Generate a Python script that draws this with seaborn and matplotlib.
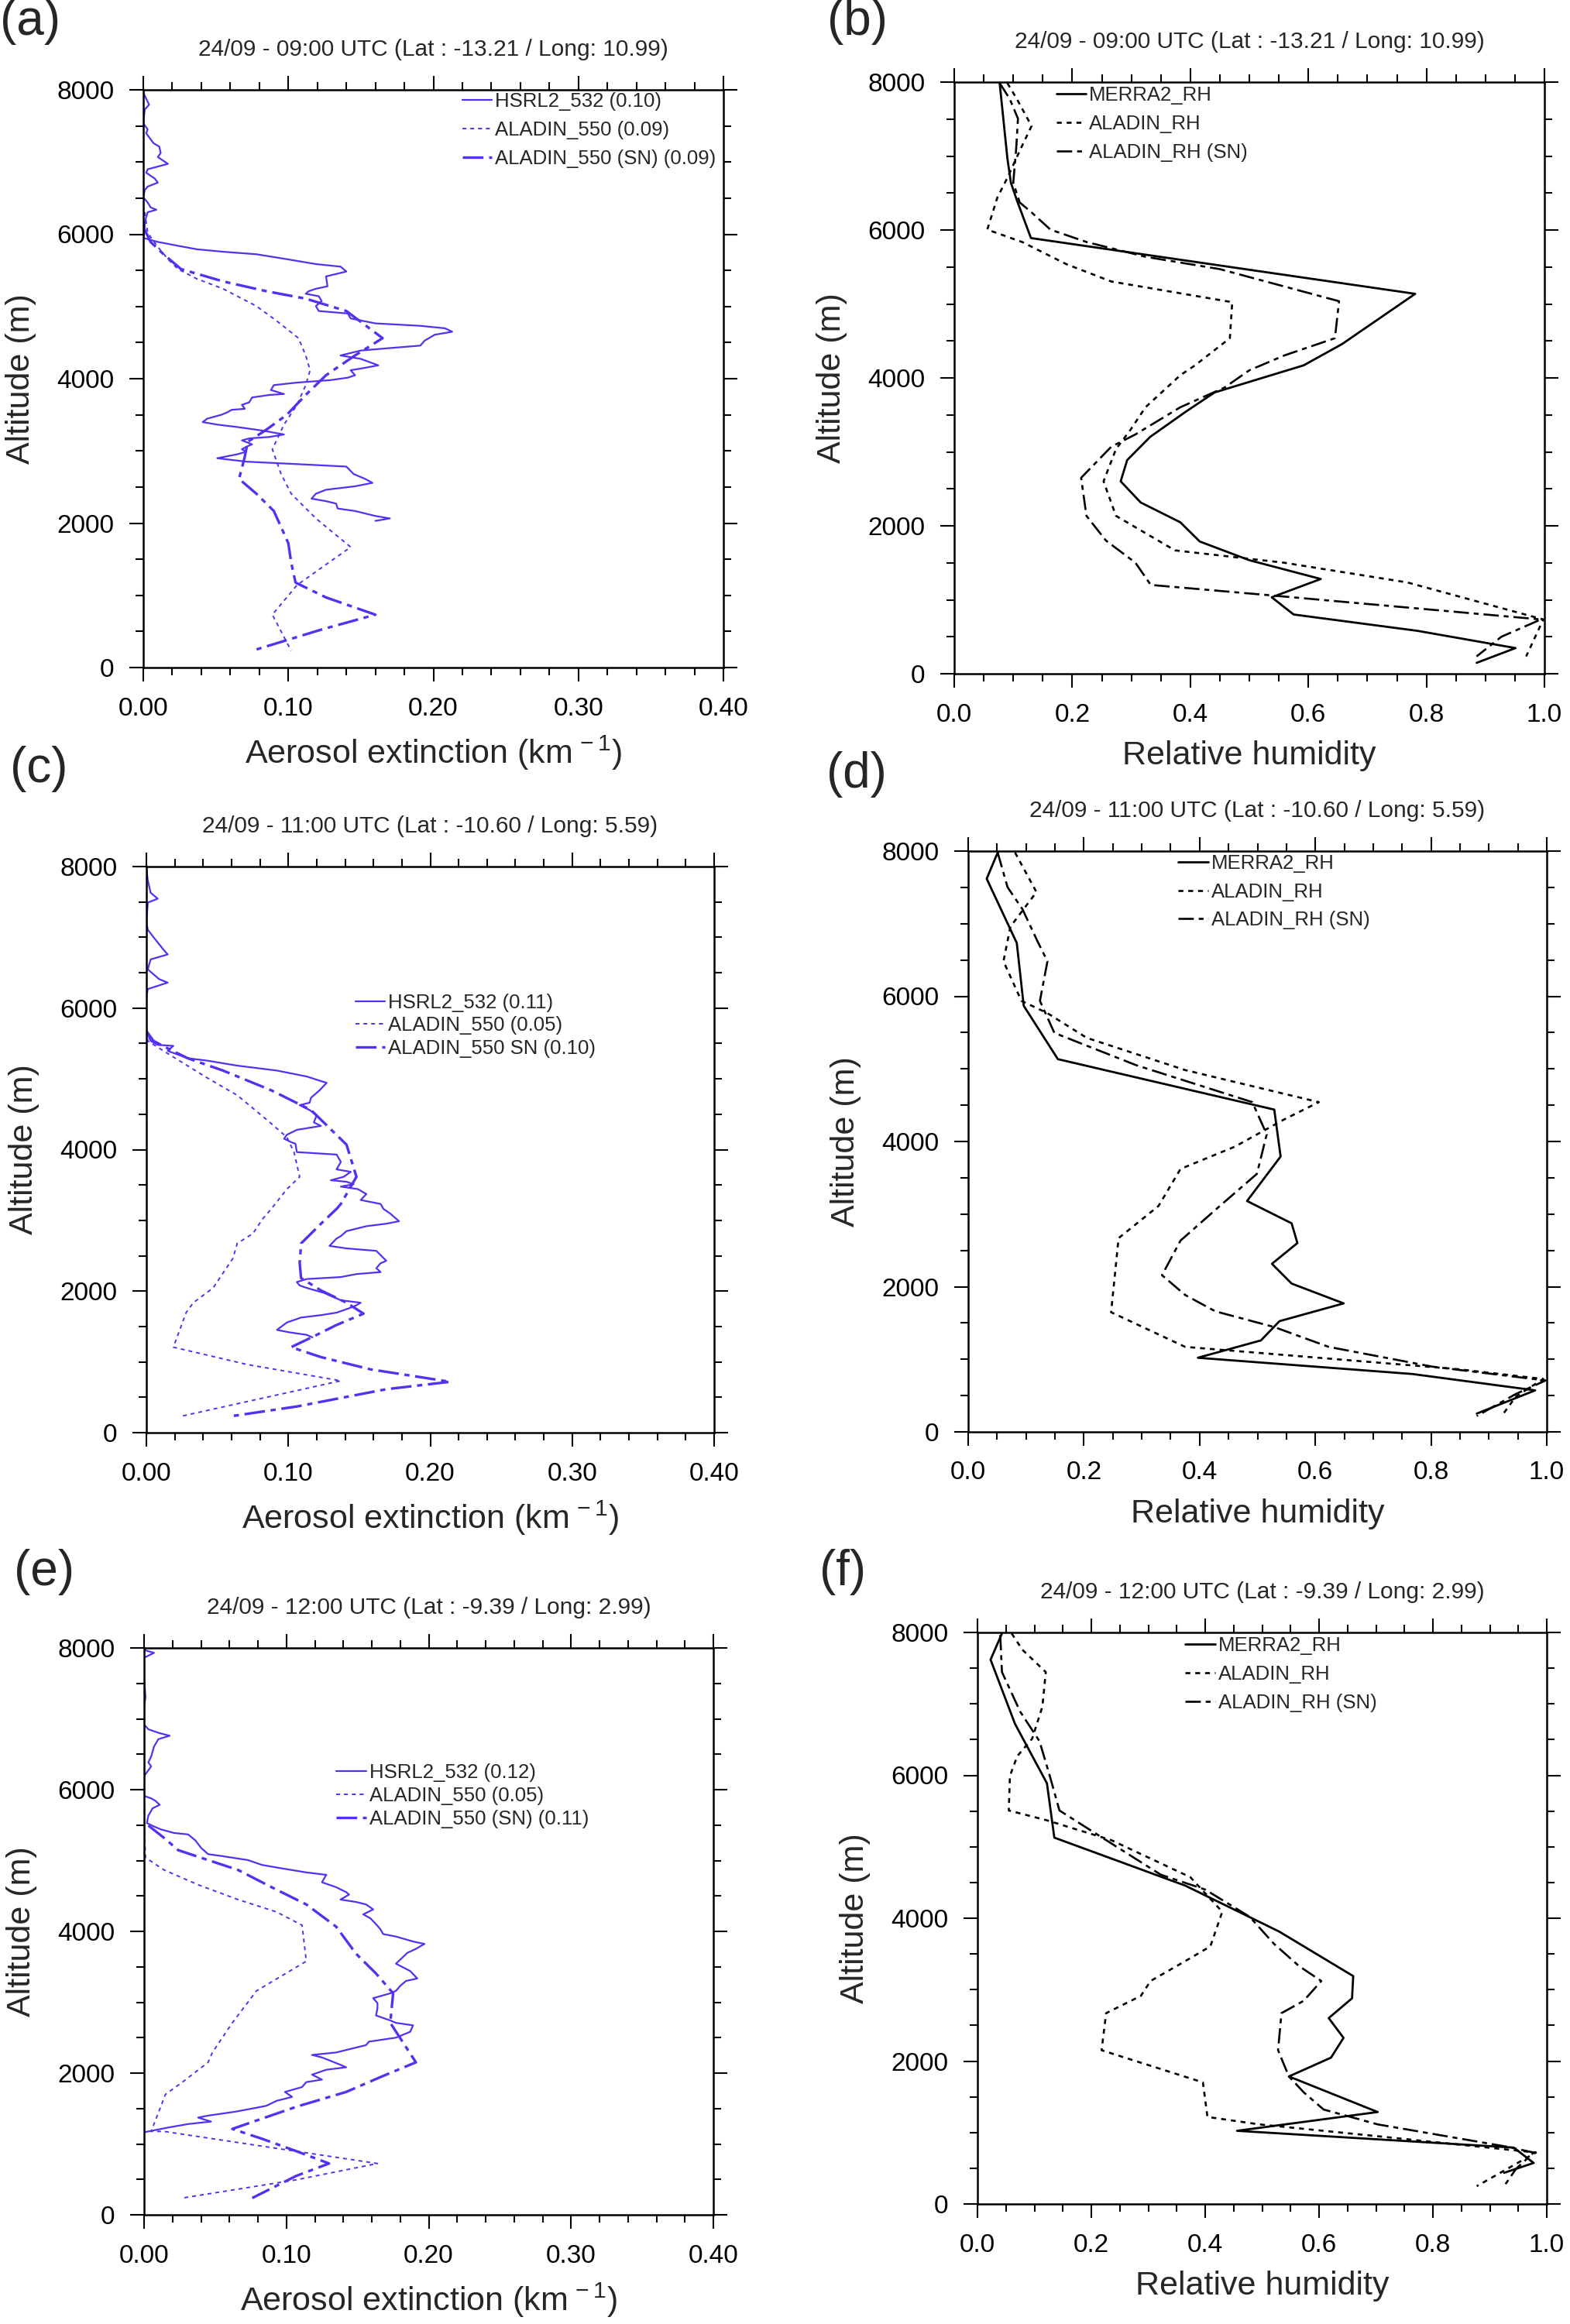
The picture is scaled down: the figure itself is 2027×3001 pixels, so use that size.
import matplotlib
matplotlib.use("Agg")
import matplotlib.pyplot as plt
from matplotlib.ticker import MultipleLocator, FormatStrFormatter
import seaborn as sns

# ---------------- data ----------------
# panel (a) 24/09 09:00 UTC, aerosol extinction (km-1) vs altitude (m)
a_hsrl_ext = [0.000, 0.004, 0.001, 0.000, 0.003, 0.002, 0.007, 0.011, 0.012, 0.010, 0.017, 0.003, 0.002,
              0.008, 0.010, 0.003, 0.001, 0.000, 0.003, 0.005, 0.009, 0.003, 0.001, 0.001, 0.000, 0.010,
              0.024, 0.037, 0.055, 0.078, 0.099, 0.119, 0.136, 0.140, 0.126, 0.127, 0.119, 0.114, 0.112,
              0.121, 0.123, 0.119, 0.121, 0.141, 0.143, 0.160, 0.191, 0.208, 0.213, 0.201, 0.194, 0.191,
              0.170, 0.150, 0.136, 0.150, 0.162, 0.153, 0.143, 0.146, 0.141, 0.129, 0.106, 0.090, 0.088,
              0.097, 0.087, 0.075, 0.073, 0.068, 0.070, 0.061, 0.058, 0.054, 0.044, 0.041, 0.051, 0.065,
              0.082, 0.097, 0.087, 0.073, 0.068, 0.075, 0.071, 0.068, 0.071, 0.065, 0.051, 0.071, 0.106,
              0.140, 0.145, 0.153, 0.158, 0.146, 0.126, 0.119, 0.116, 0.126, 0.133, 0.134, 0.146, 0.160,
              0.170, 0.160]
a_hsrl_alt = [7960, 7795, 7727, 7535, 7453, 7399, 7262, 7214, 7125, 7070, 6975, 6900, 6852,
              6770, 6715, 6660, 6612, 6510, 6441, 6373, 6339, 6305, 6168, 6031, 5949, 5894,
              5840, 5792, 5758, 5723, 5655, 5587, 5552, 5484, 5416, 5279, 5245, 5211, 5176,
              5142, 5074, 5005, 4937, 4903, 4834, 4766, 4732, 4698, 4650, 4609, 4527, 4458,
              4424, 4390, 4322, 4274, 4185, 4151, 4117, 4048, 4014, 3980, 3946, 3911, 3843,
              3788, 3775, 3740, 3672, 3638, 3583, 3569, 3535, 3501, 3446, 3399, 3364, 3330,
              3282, 3228, 3193, 3173, 3146, 3091, 3057, 3022, 2988, 2954, 2899, 2851, 2817,
              2783, 2680, 2612, 2557, 2510, 2462, 2407, 2339, 2304, 2270, 2202, 2168, 2099,
              2065, 2031]
a_ald_ext = [0.001, 0.003, 0.005, 0.010, 0.017, 0.024, 0.037, 0.055, 0.078, 0.092, 0.107, 0.112, 0.115,
             0.112, 0.106, 0.097, 0.089, 0.095, 0.102, 0.119, 0.143, 0.106, 0.089, 0.102]
a_ald_alt = [6305, 6031, 5963, 5826, 5655, 5518, 5382, 5245, 5005, 4800, 4561, 4322, 4117,
             3911, 3638, 3364, 3022, 2680, 2407, 2065, 1668, 1142, 732, 232]
a_sn_ext = [0.001, 0.005, 0.014, 0.026, 0.055, 0.085, 0.112, 0.140, 0.165, 0.146, 0.126, 0.112, 0.099,
            0.085, 0.072, 0.070, 0.066, 0.078, 0.090, 0.100, 0.102, 0.105, 0.126, 0.160, 0.123, 0.075]
a_sn_alt = [6065, 5894, 5723, 5518, 5347, 5211, 5108, 4937, 4561, 4322, 4048, 3775, 3501,
            3296, 3125, 2920, 2612, 2407, 2168, 1723, 1450, 1176, 971, 732, 527, 232]

# panel (b) 24/09 09:00 UTC, relative humidity vs altitude (m)
b_merra_rh = [0.077, 0.090, 0.096, 0.106, 0.130, 0.781, 0.657, 0.592, 0.441, 0.391, 0.332, 0.293, 0.282,
              0.316, 0.383, 0.416, 0.500, 0.621, 0.538, 0.575, 0.785, 0.951, 0.885]
b_merra_alt = [7986, 6972, 6639, 6405, 5891, 5137, 4457, 4170, 3803, 3536, 3203, 2889, 2602,
               2315, 2048, 1788, 1535, 1281, 1034, 801, 580, 347, 147]
b_ald_rh = [0.090, 0.106, 0.131, 0.111, 0.090, 0.073, 0.056, 0.115, 0.190, 0.266, 0.471, 0.467, 0.408,
            0.383, 0.324, 0.299, 0.274, 0.253, 0.274, 0.374, 0.559, 0.768, 0.998, 0.969]
b_ald_alt = [7986, 7773, 7406, 7072, 6705, 6438, 6005, 5838, 5538, 5304, 5024, 4537, 4170,
             4036, 3603, 3303, 3036, 2602, 2135, 1668, 1501, 1234, 734, 234]
b_sn_rh = [0.077, 0.094, 0.108, 0.105, 0.100, 0.111, 0.131, 0.163, 0.224, 0.324, 0.450, 0.652, 0.645,
           0.559, 0.500, 0.458, 0.383, 0.307, 0.266, 0.215, 0.224, 0.257, 0.307, 0.333, 0.525, 0.994,
           0.927, 0.885]
b_sn_alt = [7986, 7773, 7506, 7106, 6639, 6372, 6238, 6005, 5838, 5638, 5471, 5037, 4537,
            4303, 4103, 3870, 3603, 3236, 3069, 2649, 2135, 1801, 1501, 1201, 1068, 734,
            500, 234]

# panel (c) 24/09 11:00 UTC
c_hsrl_ext = [0.000, 0.001, 0.003, 0.008, 0.001, 0.000, 0.001, 0.005, 0.012, 0.015, 0.003, 0.001, 0.005,
              0.009, 0.015, 0.001, 0.000, 0.000, 0.003, 0.008, 0.019, 0.015, 0.029, 0.043, 0.064, 0.092,
              0.113, 0.127, 0.122, 0.116, 0.115, 0.108, 0.115, 0.120, 0.118, 0.123, 0.106, 0.099, 0.097,
              0.102, 0.105, 0.106, 0.134, 0.137, 0.134, 0.144, 0.139, 0.130, 0.141, 0.146, 0.137, 0.149,
              0.155, 0.151, 0.165, 0.167, 0.172, 0.178, 0.169, 0.155, 0.141, 0.137, 0.134, 0.129, 0.141,
              0.162, 0.169, 0.165, 0.162, 0.165, 0.148, 0.137, 0.113, 0.106, 0.108, 0.113, 0.125, 0.137,
              0.151, 0.148, 0.144, 0.134, 0.123, 0.109, 0.099, 0.092, 0.101, 0.113, 0.117]
c_hsrl_alt = [7979, 7804, 7630, 7546, 7491, 7211, 7107, 7002, 6827, 6758, 6688, 6548, 6478,
              6409, 6360, 6269, 6164, 5676, 5536, 5480, 5466, 5396, 5292, 5257, 5187, 5117,
              5033, 4943, 4838, 4733, 4663, 4628, 4559, 4489, 4384, 4335, 4279, 4210, 4154,
              4105, 4084, 3965, 3930, 3826, 3721, 3686, 3616, 3567, 3546, 3511, 3477, 3442,
              3372, 3288, 3232, 3162, 3093, 2988, 2953, 2918, 2848, 2778, 2744, 2639, 2604,
              2569, 2429, 2394, 2325, 2269, 2241, 2199, 2171, 2129, 2080, 2045, 1976, 1871,
              1836, 1801, 1766, 1696, 1661, 1627, 1557, 1452, 1417, 1382, 1347]
c_ald_ext = [0.000, 0.001, 0.012, 0.026, 0.043, 0.064, 0.085, 0.099, 0.104, 0.108, 0.099, 0.088, 0.082,
             0.075, 0.064, 0.061, 0.054, 0.047, 0.033, 0.028, 0.019, 0.071, 0.137, 0.024]
c_ald_alt = [5676, 5536, 5396, 5222, 5012, 4768, 4419, 4175, 3965, 3616, 3442, 3162, 3023,
             2813, 2674, 2464, 2255, 2045, 1836, 1696, 1208, 963, 733, 230]
c_sn_ext = [0.000, 0.005, 0.015, 0.029, 0.054, 0.088, 0.116, 0.141, 0.148, 0.137, 0.134, 0.123, 0.109,
            0.108, 0.109, 0.123, 0.141, 0.153, 0.134, 0.120, 0.102, 0.123, 0.158, 0.214, 0.169, 0.106,
            0.059]
c_sn_alt = [5676, 5536, 5431, 5292, 5117, 4838, 4559, 4070, 3616, 3232, 3162, 2953, 2674,
            2394, 2185, 2010, 1836, 1682, 1522, 1382, 1208, 1068, 894, 719, 614, 370, 230]

# panel (d) 24/09 11:00 UTC
d_merra_rh = [0.051, 0.032, 0.084, 0.096, 0.155, 0.529, 0.540, 0.482, 0.559, 0.569, 0.525, 0.559, 0.649,
              0.538, 0.506, 0.397, 0.768, 0.980, 0.879]
d_merra_alt = [7980, 7619, 6734, 5869, 5134, 4439, 3793, 3180, 2873, 2601, 2315, 2043, 1770,
               1525, 1260, 1021, 797, 572, 252]
d_ald_rh = [0.081, 0.118, 0.073, 0.061, 0.092, 0.137, 0.205, 0.375, 0.606, 0.546, 0.461, 0.367, 0.329,
            0.260, 0.247, 0.375, 0.845, 0.994, 0.947, 0.922]
d_ald_alt = [7980, 7435, 6959, 6482, 5937, 5767, 5427, 4984, 4542, 4303, 3929, 3622, 3112,
             2669, 1648, 1171, 865, 729, 490, 218]
d_sn_rh = [0.051, 0.068, 0.094, 0.120, 0.137, 0.124, 0.149, 0.290, 0.491, 0.516, 0.499, 0.435, 0.367,
           0.335, 0.375, 0.427, 0.529, 0.623, 0.802, 0.998, 0.947, 0.879]
d_sn_alt = [7980, 7503, 7197, 6754, 6482, 5937, 5495, 5052, 4542, 4099, 3554, 3112, 2635,
            2158, 1886, 1661, 1444, 1171, 899, 708, 524, 218]

# panel (e) 24/09 12:00 UTC
e_hsrl_ext = [0.001, 0.007, 0.000, 0.000, 0.001, 0.000, 0.000, 0.003, 0.010, 0.018, 0.010, 0.007, 0.005,
              0.003, 0.005, 0.000, 0.000, 0.000, 0.005, 0.008, 0.011, 0.006, 0.003, 0.002, 0.007, 0.012,
              0.021, 0.031, 0.036, 0.040, 0.045, 0.055, 0.073, 0.083, 0.093, 0.114, 0.128, 0.125, 0.135,
              0.142, 0.144, 0.138, 0.149, 0.156, 0.161, 0.154, 0.159, 0.163, 0.166, 0.168, 0.177, 0.189,
              0.197, 0.191, 0.185, 0.177, 0.187, 0.192, 0.184, 0.180, 0.177, 0.173, 0.161, 0.164, 0.164,
              0.163, 0.173, 0.177, 0.189, 0.187, 0.177, 0.158, 0.156, 0.142, 0.135, 0.118, 0.125, 0.138,
              0.142, 0.128, 0.118, 0.125, 0.114, 0.111, 0.099, 0.104, 0.093, 0.086, 0.079, 0.064, 0.045,
              0.038, 0.047, 0.031, 0.017, 0.003, 0.000]
e_hsrl_alt = [7966, 7931, 7861, 7583, 7304, 7165, 6921, 6852, 6803, 6761, 6712, 6608, 6469,
              6385, 6329, 6190, 5981, 5912, 5877, 5842, 5786, 5737, 5633, 5529, 5480, 5438,
              5389, 5368, 5285, 5180, 5090, 5062, 5006, 4937, 4902, 4832, 4798, 4693, 4623,
              4554, 4519, 4449, 4415, 4380, 4310, 4240, 4185, 4101, 4032, 3962, 3927, 3857,
              3823, 3753, 3697, 3544, 3440, 3335, 3300, 3231, 3161, 3126, 3057, 2987, 2918,
              2813, 2743, 2709, 2674, 2583, 2500, 2444, 2395, 2326, 2291, 2256, 2221, 2117,
              2082, 2047, 1978, 1908, 1873, 1803, 1734, 1664, 1608, 1539, 1511, 1455, 1400,
              1372, 1316, 1281, 1232, 1177, 1163]
e_ald_ext = [0.000, 0.001, 0.014, 0.038, 0.066, 0.093, 0.111, 0.114, 0.079, 0.062, 0.048, 0.045, 0.027,
             0.015, 0.005, 0.014, 0.164, 0.107, 0.027]
e_ald_alt = [5529, 5041, 4867, 4658, 4449, 4275, 4087, 3579, 3161, 2709, 2291, 2152, 1873,
             1699, 1177, 1177, 724, 494, 237]
e_sn_ext = [0.003, 0.014, 0.024, 0.045, 0.066, 0.093, 0.114, 0.135, 0.149, 0.163, 0.175, 0.173, 0.191,
            0.166, 0.142, 0.107, 0.062, 0.083, 0.107, 0.130, 0.107, 0.076]
e_sn_alt = [5494, 5320, 5146, 5006, 4867, 4589, 4380, 4066, 3683, 3405, 3126, 2709, 2152,
            1943, 1734, 1525, 1212, 1072, 898, 724, 550, 237]

# panel (f) 24/09 12:00 UTC
f_merra_rh = [0.043, 0.023, 0.066, 0.122, 0.135, 0.365, 0.530, 0.660, 0.658, 0.617, 0.643, 0.621, 0.547,
              0.703, 0.456, 0.942, 0.977, 0.925]
f_merra_alt = [7986, 7619, 6719, 5889, 5128, 4456, 3813, 3190, 2879, 2602, 2325, 2048, 1785,
               1287, 1024, 789, 574, 436]
f_ald_rh = [0.060, 0.079, 0.120, 0.114, 0.096, 0.070, 0.057, 0.055, 0.122, 0.235, 0.374, 0.430, 0.409,
            0.357, 0.304, 0.287, 0.226, 0.218, 0.396, 0.404, 0.495, 0.712, 0.981, 0.877]
f_ald_alt = [7986, 7757, 7446, 6961, 6512, 6270, 5993, 5508, 5370, 5093, 4574, 4090, 3605,
             3363, 3121, 2913, 2671, 2152, 1702, 1218, 1114, 941, 720, 249]
f_sn_rh = [0.040, 0.043, 0.075, 0.109, 0.127, 0.144, 0.226, 0.322, 0.400, 0.478, 0.521, 0.565, 0.604,
           0.573, 0.534, 0.528, 0.547, 0.573, 0.608, 0.703, 0.929, 0.977, 0.946, 0.925]
f_sn_alt = [7965, 7446, 6892, 6477, 5993, 5508, 5093, 4609, 4401, 4021, 3640, 3329, 3121,
            2844, 2671, 2152, 1785, 1564, 1322, 1114, 803, 720, 491, 249]

titles = ["24/09 - 09:00 UTC (Lat : -13.21 / Long: 10.99)",
          "24/09 - 11:00 UTC (Lat : -10.60 / Long: 5.59)",
          "24/09 - 12:00 UTC (Lat : -9.39 / Long: 2.99)"]
ext_labels = [["HSRL2_532 (0.10)", "ALADIN_550 (0.09)", "ALADIN_550 (SN) (0.09)"],
              ["HSRL2_532 (0.11)", "ALADIN_550 (0.05)", "ALADIN_550 SN (0.10)"],
              ["HSRL2_532 (0.12)", "ALADIN_550 (0.05)", "ALADIN_550 (SN) (0.11)"]]
rh_labels = ["MERRA2_RH", "ALADIN_RH", "ALADIN_RH (SN)"]

# ---------------- style ----------------
sns.set_theme(style="ticks")
plt.rcParams["font.family"] = ["Liberation Sans", "DejaVu Sans"]
plt.rcParams["mathtext.fontset"] = "custom"
plt.rcParams["mathtext.rm"] = "Liberation Sans"
plt.rcParams["mathtext.it"] = "Liberation Sans:italic"
plt.rcParams["mathtext.default"] = "regular"

PURPLE = "#5530f0"
W, H = 2027, 3001
fig = plt.figure(figsize=(W / 100, H / 100), dpi=100)

# axes boxes in pixels: left, right, top, bottom
boxes = {"a": (185, 934, 116, 862), "b": (1232, 1994, 106, 870),
         "c": (189, 922, 1119, 1850), "d": (1250, 1997, 1099, 1849),
         "e": (186, 921, 2128, 2860), "f": (1262, 1997, 2108, 2846)}
legend_anchor = {"a": (0.55, 0.996, 0.5), "b": (0.173, 0.993, 0.5),
                 "c": (0.368, 0.776, 0.22), "d": (0.363, 0.995, 0.5),
                 "e": (0.338, 0.796, 0.22), "f": (0.365, 0.993, 0.5)}
panel_pos = {"a": (0, 28), "b": (1068, 28), "c": (13, 993), "d": (1067, 1000),
             "e": (18, 2030), "f": (1058, 2030)}


def make_axes(key):
    l, r, t, b = boxes[key]
    ax = fig.add_axes([l / W, (H - b) / H, (r - l) / W, (b - t) / H])
    return ax, r - l, b - t


def style_axes(ax, wpx, hpx, ext):
    ax.set_ylim(0, 8000)
    ax.yaxis.set_major_locator(MultipleLocator(2000))
    ax.yaxis.set_minor_locator(MultipleLocator(500))
    if ext:
        ax.set_xlim(0, 0.4)
        ax.xaxis.set_major_locator(MultipleLocator(0.1))
        ax.xaxis.set_minor_locator(MultipleLocator(0.02))
        ax.xaxis.set_major_formatter(FormatStrFormatter("%.2f"))
        ax.set_xlabel(r"Aerosol extinction (km$^{\,-1}$)", fontsize=31)
    else:
        ax.set_xlim(0, 1.0)
        ax.xaxis.set_major_locator(MultipleLocator(0.2))
        ax.xaxis.set_minor_locator(MultipleLocator(0.05))
        ax.xaxis.set_major_formatter(FormatStrFormatter("%.1f"))
        ax.set_xlabel("Relative humidity", fontsize=31)
    ax.set_ylabel("Altitude (m)", fontsize=31)
    ax.tick_params(which="both", direction="out", top=True, right=True, width=1.5, colors="black")
    ax.tick_params(which="major", length=13, labelsize=24, pad=14)
    ax.tick_params(which="minor", length=7)
    for s in ax.spines.values():
        s.set_linewidth(1.8)
        s.set_color("black")
    ax.xaxis.set_label_coords(0.5, -86 / hpx)
    ax.yaxis.set_label_coords(-138 / wpx, 0.5)


def add_legend(ax, key):
    ax_x, ax_y, sp = legend_anchor[key]
    ax.legend(loc="upper left", bbox_to_anchor=(ax_x, ax_y), frameon=False, fontsize=18.5,
              handlelength=1.5, handletextpad=0.15, borderpad=0, borderaxespad=0, labelspacing=sp)


ext_sets = [("a", a_hsrl_ext, a_hsrl_alt, a_ald_ext, a_ald_alt, a_sn_ext, a_sn_alt),
            ("c", c_hsrl_ext, c_hsrl_alt, c_ald_ext, c_ald_alt, c_sn_ext, c_sn_alt),
            ("e", e_hsrl_ext, e_hsrl_alt, e_ald_ext, e_ald_alt, e_sn_ext, e_sn_alt)]
rh_sets = [("b", b_merra_rh, b_merra_alt, b_ald_rh, b_ald_alt, b_sn_rh, b_sn_alt),
           ("d", d_merra_rh, d_merra_alt, d_ald_rh, d_ald_alt, d_sn_rh, d_sn_alt),
           ("f", f_merra_rh, f_merra_alt, f_ald_rh, f_ald_alt, f_sn_rh, f_sn_alt)]

for i, (key, hx, hy, ax_, ay, sx, sy) in enumerate(ext_sets):
    ax, wpx, hpx = make_axes(key)
    labs = ext_labels[i]
    sns.lineplot(x=hx, y=hy, sort=False, estimator=None, ax=ax, color=PURPLE, lw=1.6, label=labs[0])
    sns.lineplot(x=ax_, y=ay, sort=False, estimator=None, ax=ax, color=PURPLE, lw=1.4,
                 linestyle=(0, (2.6, 2.6)), label=labs[1])
    sns.lineplot(x=sx, y=sy, sort=False, estimator=None, ax=ax, color=PURPLE, lw=2.4,
                 linestyle=(0, (8, 2.2, 2, 2.2)), label=labs[2])
    style_axes(ax, wpx, hpx, True)
    add_legend(ax, key)
    ax.text(0.5, 1 + 52 / hpx, titles[i], transform=ax.transAxes, ha="center", va="center", fontsize=21.5)

for i, (key, mx, my, ax_, ay, sx, sy) in enumerate(rh_sets):
    ax, wpx, hpx = make_axes(key)
    sns.lineplot(x=mx, y=my, sort=False, estimator=None, ax=ax, color="black", lw=2.0, label=rh_labels[0])
    sns.lineplot(x=ax_, y=ay, sort=False, estimator=None, ax=ax, color="black", lw=1.9,
                 linestyle=(0, (2.4, 2.4)), label=rh_labels[1])
    sns.lineplot(x=sx, y=sy, sort=False, estimator=None, ax=ax, color="black", lw=1.9,
                 linestyle=(0, (7.5, 2.4, 2.4, 2.4)), label=rh_labels[2])
    style_axes(ax, wpx, hpx, False)
    add_legend(ax, key)
    ax.text(0.5, 1 + 52 / hpx, titles[i], transform=ax.transAxes, ha="center", va="center", fontsize=21.5)

for key, (px, py) in panel_pos.items():
    fig.text(px / W, 1 - py / H, f"({key})", ha="left", va="center", fontsize=46)

fig.savefig("out.png", dpi=100, facecolor="white")
